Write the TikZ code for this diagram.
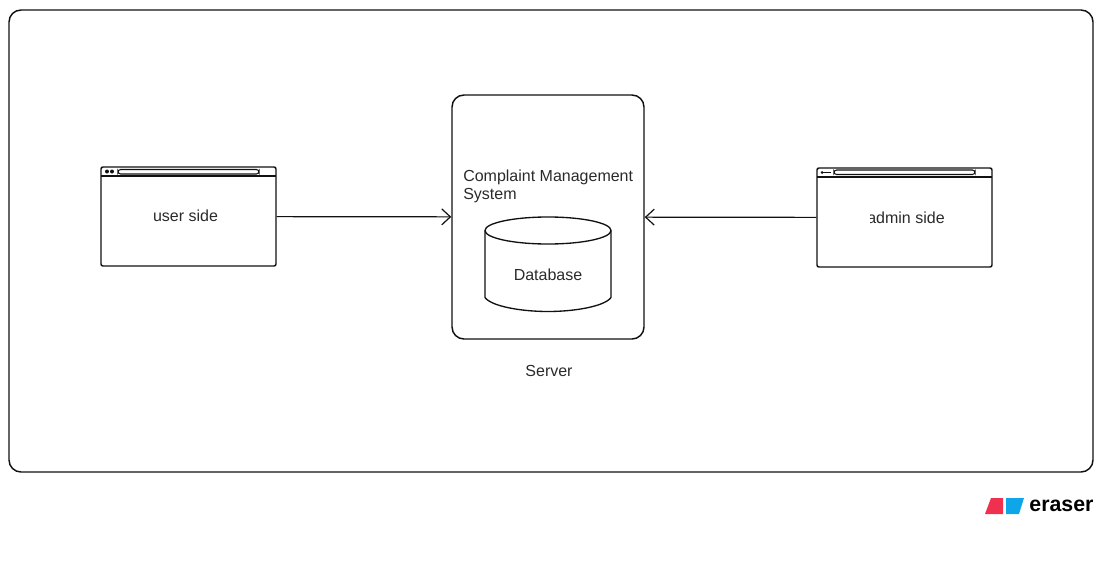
\documentclass[tikz,border=0pt]{standalone}
\usepackage{fontspec}
\setmainfont{Liberation Sans}
\usetikzlibrary{arrows.meta}
\definecolor{inkline}{HTML}{111111}
\definecolor{inktext}{HTML}{2A2A2A}
\definecolor{logored}{HTML}{F0304F}
\definecolor{logoblue}{HTML}{0EA5E9}
\tikzset{
  box/.style={draw=inkline, line width=1.1pt, rounded corners=1.5pt, inner sep=0pt, minimum width=131.25pt, minimum height=74.25pt},
  serverbox/.style={draw=inkline, line width=1.1pt, rounded corners=9pt, inner sep=0pt, minimum width=144pt, minimum height=183pt},
  dbline/.style={draw=inkline, line width=1pt},
  caption/.style={font=\fontsize{12}{13.5}\selectfont, text=inktext, inner sep=0pt},
  link/.style={draw=inkline, line width=0.9pt, -{Straight Barb[length=6.5pt,width=12pt,line width=0.9pt]}},
  thinbar/.style={draw=inkline, line width=0.8pt}
}
\begin{document}
\begin{tikzpicture}[x=0.75pt, y=-0.75pt]
    \useasboundingbox (0,0) rectangle (1104,561);

    % Outer frame
    % ---------------------
    \node[draw=inkline, line width=1.1pt, rounded corners=9pt, minimum width=813pt, minimum height=346.5pt, inner sep=0pt] (frame) at (551,241) {};

    % Server with database
    % ---------------------
    \node[serverbox] (srv) at (548,217) {};
    \node[caption, align=left, anchor=west] (cms) at (463,186.5) {Complaint Management\\System};
    \draw[dbline] (548,230.5) ellipse (63 and 13.5);
    \draw[dbline] (485,230.5)--(485,297.5) .. controls (491,306) and (520,311.5) .. (548,311.5) .. controls (576,311.5) and (605,306) .. (611,297.5)--(611,230.5);
    \node[caption] (dbtext) at (548,275) {Database};
    \node[caption] (srvtext) at (549,370.5) {Server};

    % Two browser windows
    % ---------------------
    \node[box] (usr) at (188.5,216.5) {};
    \node[caption] (usrtext) at (185.5,216) {user side};
    \draw[thinbar] (101,176)--(276,176);
    \draw[thinbar, rounded corners=2pt] (118,169.5) rectangle (259,174);
    \fill[inkline] (107,171.5) circle (2) (112,171.5) circle (2);

    \node[box] (adm) at (904.5,217.5) {};
    \node[caption] (admtext) at (906,217.5) {admin side};
    \fill[white] (865,208) rectangle (870,227);
    \draw[thinbar] (817,177)--(992,177);
    \draw[thinbar, rounded corners=2pt] (834,170) rectangle (975,174.5);
    \fill[inkline] (822,172.5) circle (1.5);
    \draw[inkline, line width=0.7pt] (822,172.5)--(831,172.5);

    % Links
    % ---------------------
    \draw[link] (usr) -- (srv);
    \draw[link] (adm) -- (srv);

    % Logo
    % ---------------------
    \fill[logored] (991,498)--(1003,498)--(1003,514)--(985,514)--cycle;
    \fill[logoblue] (1006,498)--(1024,498)--(1019,514)--(1006,514)--cycle;
    \node[inner sep=0pt, font=\fontsize{16}{18}\selectfont\bfseries, text=black] (brand) at (1061.5,506) {eraser};
\end{tikzpicture}
\end{document}
